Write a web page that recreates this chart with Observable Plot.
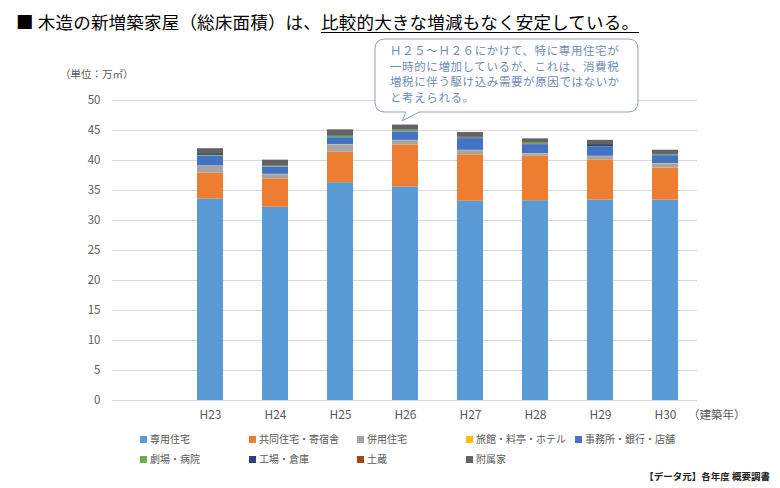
<!DOCTYPE html>
<html>
<head>
<meta charset="utf-8">
<script src="https://cdn.jsdelivr.net/npm/d3@7"></script>
<script src="https://cdn.jsdelivr.net/npm/@observablehq/plot@0.6"></script>
<style>
  html, body { margin: 0; padding: 0; background: #fff; }
  #page { position: relative; width: 780px; height: 488px; overflow: hidden; font-family: "Noto Sans CJK JP", "Noto Sans", sans-serif; }
  #chart { position: absolute; left: 0; top: 0; }
  .abs { position: absolute; white-space: nowrap; }
  #title { left: 16px; top: 9px; font-size: 17.5px; color: #000; letter-spacing: 0.2px; }
  #title u { text-decoration: underline; text-underline-offset: 3px; text-decoration-thickness: 1px; }
  #unit { left: 60px; top: 66px; font-size: 10.5px; color: #595959; }
  #xunit { left: 688px; top: 406px; font-size: 11.5px; color: #595959; }
  #callout-text { left: 390px; top: 43px; font-size: 11.5px; line-height: 15.5px; color: #6F8DB5; letter-spacing: 0.6px; }
  .leg { position: absolute; font-size: 10px; color: #595959; white-space: nowrap; }
  .leg span.sw { display: inline-block; width: 7px; height: 7px; margin-right: 3px; vertical-align: 0px; }
  #caption { right: 10px; top: 469px; font-size: 9.5px; font-weight: bold; color: #222; }
</style>
</head>
<body>
<div id="page">
  <div id="chart"></div>
  <div id="title" class="abs">■ 木造の新増築家屋（総床面積）は、<u>比較的大きな増減もなく安定している。</u></div>
  <div id="unit" class="abs">（単位：万㎡）</div>
  <div id="xunit" class="abs">（建築年）</div>
  <svg class="abs" style="left:0;top:0" width="780" height="140">
    <path d="M385,39 H628 Q638,39 638,49 V102 Q638,112 628,112 H419 L402,121 L406,112 H385 Q375,112 375,102 V49 Q375,39 385,39 Z" fill="#fff" stroke="#8FA2B8" stroke-width="1"/>
  </svg>
  <div id="callout-text" class="abs">Ｈ２５～Ｈ２６にかけて、特に専用住宅が<br>一時的に増加しているが、これは、消費税<br>増税に伴う駆け込み需要が原因ではないか<br>と考えられる。</div>
  <div id="legend"></div>
  <div id="caption" class="abs">【データ元】各年度 概要調書</div>
</div>
<script>
const years = ["H23","H24","H25","H26","H27","H28","H29","H30"];
const types = ["専用住宅","共同住宅・寄宿舎","併用住宅","旅館・料亭・ホテル","事務所・銀行・店舗","劇場・病院","工場・倉庫","土蔵","附属家"];
const colors = ["#5B9BD5","#ED7D31","#A5A5A5","#FFC000","#4472C4","#70AD47","#264478","#9E480E","#636363"];
const senyo   = [33.6, 32.2, 36.3, 35.6, 33.2, 33.3, 33.4, 33.4];
const kyodo   = [4.3, 4.75, 5.1, 7.0, 7.75, 7.4, 6.7, 5.35];
const heiyo   = [1.15, 0.7, 1.2, 0.7, 0.7, 0.4, 0.55, 0.7];
const ryokan  = [0.05, 0.05, 0.05, 0.05, 0.05, 0.05, 0.05, 0.05];
const jimusho = [1.6, 1.2, 1.15, 1.4, 1.95, 1.5, 1.5, 1.3];
const gekijo  = [0.15, 0.1, 0.2, 0.2, 0.1, 0.2, 0.05, 0.15];
const kojo    = [0.3, 0.05, 0.1, 0.1, 0.1, 0.05, 0.4, 0.05];
const dozo    = [0.02, 0.01, 0.01, 0.01, 0.01, 0.01, 0.01, 0.01];
const fuzoku  = [0.8, 1.0, 1.0, 0.85, 0.8, 0.7, 0.7, 0.7];
const yTicks  = [0, 5, 10, 15, 20, 25, 30, 35, 40, 45, 50];

const series = [senyo, kyodo, heiyo, ryokan, jimusho, gekijo, kojo, dozo, fuzoku];
const rows = [];
series.forEach((vals, i) => vals.forEach((v, j) => rows.push({year: years[j], type: types[i], value: v})));

const chart = Plot.plot({
  width: 780,
  height: 430,
  marginTop: 100,
  marginBottom: 30,
  marginLeft: 112,
  marginRight: 83,
  style: {fontFamily: '"Noto Sans CJK JP", "Noto Sans", sans-serif', color: "#595959", background: "transparent"},
  x: {domain: ["", ...years], paddingInner: 0.6, paddingOuter: 0.3, label: null},
  y: {domain: [0, 50], label: null},
  color: {domain: types, range: colors},
  marks: [
    Plot.gridY(yTicks, {stroke: "#D9D9D9", strokeOpacity: 1, strokeWidth: 1}),
    Plot.barY(rows, {x: "year", y: "value", fill: "type", order: types, inset: 0}),
    Plot.axisY(yTicks, {tickSize: 0, tickPadding: 12, fontSize: 11.5, label: null}),
    Plot.axisX({tickSize: 0, tickPadding: 10, fontSize: 12, label: null})
  ]
});
document.getElementById("chart").appendChild(chart);

const legendPos = [[140,431],[249,431],[357,431],[466,431],[575,431],[140,451],[249,451],[357,451],[466,451]];
const legend = document.getElementById("legend");
types.forEach((t, i) => {
  const d = document.createElement("div");
  d.className = "leg";
  d.style.left = legendPos[i][0] + "px";
  d.style.top = legendPos[i][1] + "px";
  d.innerHTML = `<span class="sw" style="background:${colors[i]}"></span>${t}`;
  legend.appendChild(d);
});
</script>
</body>
</html>
